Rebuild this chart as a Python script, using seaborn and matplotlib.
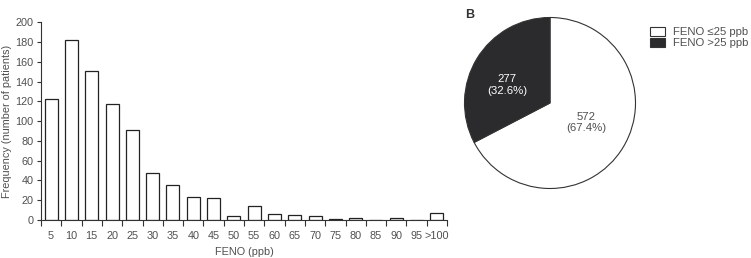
import numpy as np
import pandas as pd
import seaborn as sns
import matplotlib.pyplot as plt

# Histogram data (panel A)
feno_bins = ['5', '10', '15', '20', '25', '30', '35', '40', '45', '50',
             '55', '60', '65', '70', '75', '80', '85', '90', '95', '>100']
patients = [122, 182, 151, 117, 91, 48, 35, 23, 22, 4,
            14, 6, 5, 4, 1, 2, 0, 2, 0, 7]

# Pie data (panel B)
pie_labels = ['FENO ≤25 ppb', 'FENO >25 ppb']
pie_counts = [572, 277]
pie_pcts = [67.4, 32.6]

sns.set_style('ticks')
plt.rcParams['font.family'] = ['Liberation Sans', 'DejaVu Sans']
txt = '#505050'
dark = '#2b2b2e'
fs = 7.8

fig = plt.figure(figsize=(7.51, 2.58), dpi=100)

# Panel A: frequency bars
ax = fig.add_axes([41 / 751, 1 - 220 / 258, 406 / 751, 197.7 / 258])
df = pd.DataFrame({'bin': feno_bins, 'n': patients})
sns.barplot(data=df, x='bin', y='n', color='white', edgecolor='#222222',
            linewidth=0.9, width=0.64, ax=ax)
ax.set_xlim(-0.5, len(feno_bins) - 0.5)
ax.set_ylim(0, 200)
ax.set_yticks(range(0, 201, 20))
ax.set_xticks(np.arange(len(feno_bins) + 1) - 0.5, minor=True)
ax.tick_params(axis='x', which='major', length=0, pad=8, labelsize=fs, labelcolor=txt)
ax.tick_params(axis='x', which='minor', length=4, width=0.8, color='#333333')
ax.tick_params(axis='y', length=3, width=0.8, pad=2.5, labelsize=fs, labelcolor=txt, color='#333333')
for s in ['left', 'bottom']:
    ax.spines[s].set_color('#333333')
    ax.spines[s].set_linewidth(0.8)
sns.despine(ax=ax)
ax.set_xlabel('FENO (ppb)', fontsize=fs, color=txt, labelpad=4)
ax.set_ylabel('Frequency (number of patients)', fontsize=fs, color=txt, labelpad=2)

# Panel B: pie
axp = fig.add_axes([464.5 / 751, 1 - 188.5 / 258, 171 / 751, 171 / 258])
wedges, _ = axp.pie(pie_counts, colors=['white', dark], startangle=90,
                    counterclock=False,
                    wedgeprops={'edgecolor': '#333333', 'linewidth': 0.8})
axp.set_xlim(-1, 1)
axp.set_ylim(-1, 1)
axp.set_aspect('equal')
axp.text(0.42, -0.23, f'{pie_counts[0]}\n({pie_pcts[0]}%)', ha='center', va='center',
         fontsize=fs + 0.4, color=txt, linespacing=1.15)
axp.text(-0.5, 0.21, f'{pie_counts[1]}\n({pie_pcts[1]}%)', ha='center', va='center',
         fontsize=fs + 0.4, color='white', linespacing=1.15)
fig.text(465 / 751, 1 - 15 / 258, 'B', fontsize=9, fontweight='bold', color='#333333',
         ha='left', va='center')
axp.legend(wedges, pie_labels, loc='upper left', bbox_to_anchor=(1.06, 0.97),
           frameon=False, fontsize=fs + 0.4, labelcolor=txt, handlelength=1.3,
           handleheight=0.8, handletextpad=0.7, labelspacing=0.05, borderaxespad=0)

fig.savefig('out.png', dpi=100)
